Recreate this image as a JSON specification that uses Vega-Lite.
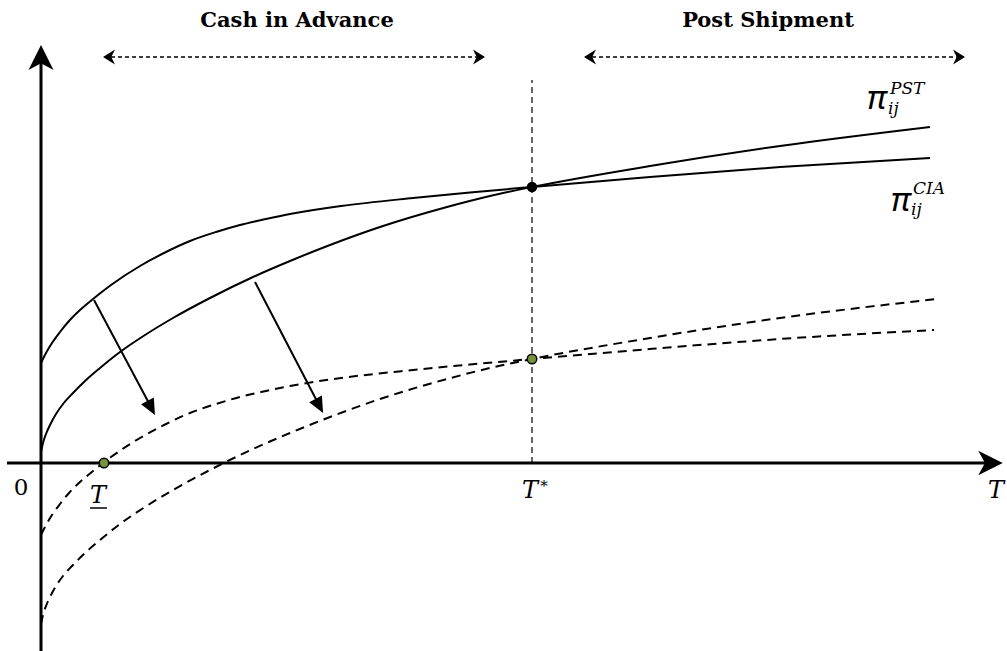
{
  "$schema": "https://vega.github.io/schema/vega-lite/v6.json",
  "width": 1007,
  "height": 651,
  "padding": 0,
  "autosize": {"type": "none"},
  "background": "white",
  "config": {"view": {"stroke": null}, "text": {"font": "DejaVu Serif"}},
  "encoding": {
    "x": {"field": "x", "type": "quantitative", "scale": {"domain": [-41, 966], "nice": false, "zero": false}, "axis": null},
    "y": {"field": "y", "type": "quantitative", "scale": {"domain": [-188, 463], "nice": false, "zero": false}, "axis": null}
  },
  "layer": [
    {
      "data": {"values": [
        {"curve": "CIA", "x": 0, "y": 100}, {"curve": "CIA", "x": 5, "y": 110}, {"curve": "CIA", "x": 11, "y": 120}, {"curve": "CIA", "x": 19, "y": 131}, {"curve": "CIA", "x": 28, "y": 142}, {"curve": "CIA", "x": 39, "y": 153}, {"curve": "CIA", "x": 52, "y": 164}, {"curve": "CIA", "x": 70, "y": 178}, {"curve": "CIA", "x": 99, "y": 197}, {"curve": "CIA", "x": 125, "y": 211}, {"curve": "CIA", "x": 149, "y": 222}, {"curve": "CIA", "x": 175, "y": 231}, {"curve": "CIA", "x": 199, "y": 238}, {"curve": "CIA", "x": 225, "y": 244}, {"curve": "CIA", "x": 249, "y": 249}, {"curve": "CIA", "x": 300, "y": 257}, {"curve": "CIA", "x": 372, "y": 265}, {"curve": "CIA", "x": 429, "y": 270.5}, {"curve": "CIA", "x": 491, "y": 276}, {"curve": "CIA", "x": 609, "y": 286}, {"curve": "CIA", "x": 739, "y": 296}, {"curve": "CIA", "x": 889, "y": 305},
        {"curve": "PST", "x": 0, "y": 11}, {"curve": "PST", "x": 2, "y": 20}, {"curve": "PST", "x": 5, "y": 29}, {"curve": "PST", "x": 9, "y": 38}, {"curve": "PST", "x": 15, "y": 49}, {"curve": "PST", "x": 22, "y": 59}, {"curve": "PST", "x": 32, "y": 70}, {"curve": "PST", "x": 44, "y": 82}, {"curve": "PST", "x": 59, "y": 95}, {"curve": "PST", "x": 79, "y": 111}, {"curve": "PST", "x": 104, "y": 128}, {"curve": "PST", "x": 132, "y": 145}, {"curve": "PST", "x": 169, "y": 165}, {"curve": "PST", "x": 212, "y": 186}, {"curve": "PST", "x": 249, "y": 202}, {"curve": "PST", "x": 289, "y": 218}, {"curve": "PST", "x": 339, "y": 236}, {"curve": "PST", "x": 406, "y": 256}, {"curve": "PST", "x": 449, "y": 267}, {"curve": "PST", "x": 491, "y": 276}, {"curve": "PST", "x": 609, "y": 297}, {"curve": "PST", "x": 739, "y": 317}, {"curve": "PST", "x": 889, "y": 336}
      ]},
      "mark": {"type": "line", "color": "black", "strokeWidth": 2, "interpolate": "monotone"},
      "encoding": {"detail": {"field": "curve"}}
    },
    {
      "data": {"values": [
        {"curve": "CIA2", "x": 0, "y": -72}, {"curve": "CIA2", "x": 5, "y": -62}, {"curve": "CIA2", "x": 11, "y": -52}, {"curve": "CIA2", "x": 19, "y": -41}, {"curve": "CIA2", "x": 28, "y": -30}, {"curve": "CIA2", "x": 39, "y": -19}, {"curve": "CIA2", "x": 52, "y": -8}, {"curve": "CIA2", "x": 70, "y": 6}, {"curve": "CIA2", "x": 99, "y": 25}, {"curve": "CIA2", "x": 125, "y": 39}, {"curve": "CIA2", "x": 149, "y": 50}, {"curve": "CIA2", "x": 175, "y": 59}, {"curve": "CIA2", "x": 199, "y": 66}, {"curve": "CIA2", "x": 225, "y": 72}, {"curve": "CIA2", "x": 249, "y": 77}, {"curve": "CIA2", "x": 300, "y": 85}, {"curve": "CIA2", "x": 372, "y": 93}, {"curve": "CIA2", "x": 429, "y": 98.5}, {"curve": "CIA2", "x": 491, "y": 104}, {"curve": "CIA2", "x": 609, "y": 114}, {"curve": "CIA2", "x": 739, "y": 124}, {"curve": "CIA2", "x": 893, "y": 133},
        {"curve": "PST2", "x": 0, "y": -161}, {"curve": "PST2", "x": 2, "y": -152}, {"curve": "PST2", "x": 5, "y": -143}, {"curve": "PST2", "x": 9, "y": -134}, {"curve": "PST2", "x": 15, "y": -123}, {"curve": "PST2", "x": 22, "y": -113}, {"curve": "PST2", "x": 32, "y": -102}, {"curve": "PST2", "x": 44, "y": -90}, {"curve": "PST2", "x": 59, "y": -77}, {"curve": "PST2", "x": 79, "y": -61}, {"curve": "PST2", "x": 104, "y": -44}, {"curve": "PST2", "x": 132, "y": -27}, {"curve": "PST2", "x": 169, "y": -7}, {"curve": "PST2", "x": 212, "y": 14}, {"curve": "PST2", "x": 249, "y": 30}, {"curve": "PST2", "x": 289, "y": 46}, {"curve": "PST2", "x": 339, "y": 64}, {"curve": "PST2", "x": 406, "y": 84}, {"curve": "PST2", "x": 449, "y": 95}, {"curve": "PST2", "x": 491, "y": 104}, {"curve": "PST2", "x": 609, "y": 125}, {"curve": "PST2", "x": 739, "y": 145}, {"curve": "PST2", "x": 896, "y": 164}
      ]},
      "mark": {"type": "line", "color": "black", "strokeWidth": 2, "strokeDash": [9, 6], "interpolate": "monotone"},
      "encoding": {"detail": {"field": "curve"}}
    },
    {
      "data": {"values": [
        {"x": 0, "y": -190, "x2": 0, "y2": 403},
        {"x": -34, "y": 0, "x2": 947, "y2": 0}
      ]},
      "mark": {"type": "rule", "color": "black", "strokeWidth": 3},
      "encoding": {"x2": {"field": "x2"}, "y2": {"field": "y2"}}
    },
    {
      "data": {"values": [
        {"x": 53, "y": 163, "x2": 110, "y2": 56},
        {"x": 214, "y": 181, "x2": 278, "y2": 58}
      ]},
      "mark": {"type": "rule", "color": "black", "strokeWidth": 2},
      "encoding": {"x2": {"field": "x2"}, "y2": {"field": "y2"}}
    },
    {
      "data": {"values": [
        {"x": 70, "y": 406, "x2": 436, "y2": 406},
        {"x": 551, "y": 406, "x2": 916, "y2": 406}
      ]},
      "mark": {"type": "rule", "color": "black", "strokeWidth": 1.3, "strokeDash": [4, 3]},
      "encoding": {"x2": {"field": "x2"}, "y2": {"field": "y2"}}
    },
    {
      "data": {"values": [{"x": 491, "y": 0, "x2": 491, "y2": 383}]},
      "mark": {"type": "rule", "color": "black", "strokeWidth": 1.2, "strokeDash": [6, 4]},
      "encoding": {"x2": {"field": "x2"}, "y2": {"field": "y2"}}
    },
    {
      "data": {"values": [{"x": 49, "y": -45, "x2": 66, "y2": -45}]},
      "mark": {"type": "rule", "color": "black", "strokeWidth": 1.5},
      "encoding": {"x2": {"field": "x2"}, "y2": {"field": "y2"}}
    },
    {
      "data": {"values": [{"x": 0, "y": 405.5}]},
      "mark": {"type": "point", "shape": "M0,-1L1,1L0,0.45L-1,1Z", "size": 625, "filled": true, "color": "black", "opacity": 1, "angle": 0}
    },
    {
      "data": {"values": [{"x": 949.5, "y": 0}]},
      "mark": {"type": "point", "shape": "M0,-1L1,1L0,0.45L-1,1Z", "size": 600, "filled": true, "color": "black", "opacity": 1, "angle": 90}
    },
    {
      "data": {"values": [{"x": 68, "y": 406}, {"x": 549, "y": 406}]},
      "mark": {"type": "point", "shape": "M0,-0.8L1,0.8L0,0.3L-1,0.8Z", "size": 225, "filled": true, "color": "black", "opacity": 1, "angle": 270}
    },
    {
      "data": {"values": [{"x": 438, "y": 406}, {"x": 918, "y": 406}]},
      "mark": {"type": "point", "shape": "M0,-0.8L1,0.8L0,0.3L-1,0.8Z", "size": 225, "filled": true, "color": "black", "opacity": 1, "angle": 90}
    },
    {
      "data": {"values": [{"x": 110.2, "y": 55.1}, {"x": 278.3, "y": 57.1}]},
      "mark": {"type": "point", "shape": "M0,-1L0.9,1L-0.9,1Z", "size": 256, "filled": true, "color": "black", "opacity": 1, "angle": 152}
    },
    {
      "data": {"values": [{"x": 491, "y": 276}]},
      "mark": {"type": "point", "shape": "circle", "size": 110, "filled": true, "color": "black", "opacity": 1}
    },
    {
      "data": {"values": [{"x": 63, "y": 0}, {"x": 491, "y": 104}]},
      "mark": {"type": "point", "shape": "circle", "size": 90, "filled": true, "fill": "#77933C", "stroke": "black", "strokeWidth": 1.5, "opacity": 1}
    },
    {
      "data": {"values": [{"x": 256, "y": 436, "label": "Cash in Advance"}, {"x": 727, "y": 436, "label": "Post Shipment"}]},
      "mark": {"type": "text", "font": "DejaVu Serif", "fontWeight": "bold", "fontSize": 21, "align": "center", "baseline": "alphabetic", "color": "black"},
      "encoding": {"text": {"field": "label"}}
    },
    {
      "data": {"values": [{"x": -20, "y": -32, "label": "0"}]},
      "mark": {"type": "text", "font": "DejaVu Serif", "fontSize": 23, "align": "center", "baseline": "alphabetic", "color": "black"},
      "encoding": {"text": {"field": "label"}}
    },
    {
      "data": {"values": [{"x": 57, "y": -40, "label": "T"}, {"x": 489, "y": -35, "label": "T"}, {"x": 955, "y": -35, "label": "T"}]},
      "mark": {"type": "text", "font": "DejaVu Serif", "fontStyle": "italic", "fontSize": 24, "align": "center", "baseline": "alphabetic", "color": "black"},
      "encoding": {"text": {"field": "label"}}
    },
    {
      "data": {"values": [{"x": 503, "y": -28, "label": "*"}]},
      "mark": {"type": "text", "font": "DejaVu Serif", "fontSize": 15, "align": "center", "baseline": "alphabetic", "color": "black"},
      "encoding": {"text": {"field": "label"}}
    },
    {
      "data": {"values": [{"x": 826, "y": 354, "label": "π"}, {"x": 850, "y": 252, "label": "π"}]},
      "mark": {"type": "text", "font": "Noto Sans", "fontStyle": "italic", "fontSize": 33, "align": "left", "baseline": "alphabetic", "color": "black"},
      "encoding": {"text": {"field": "label"}}
    },
    {
      "data": {"values": [{"x": 849, "y": 369, "label": "PST"}, {"x": 847, "y": 349, "label": "ij"}, {"x": 872, "y": 269, "label": "CIA"}, {"x": 870, "y": 248, "label": "ij"}]},
      "mark": {"type": "text", "font": "DejaVu Serif", "fontStyle": "italic", "fontSize": 17, "align": "left", "baseline": "alphabetic", "color": "black"},
      "encoding": {"text": {"field": "label"}}
    }
  ]
}
